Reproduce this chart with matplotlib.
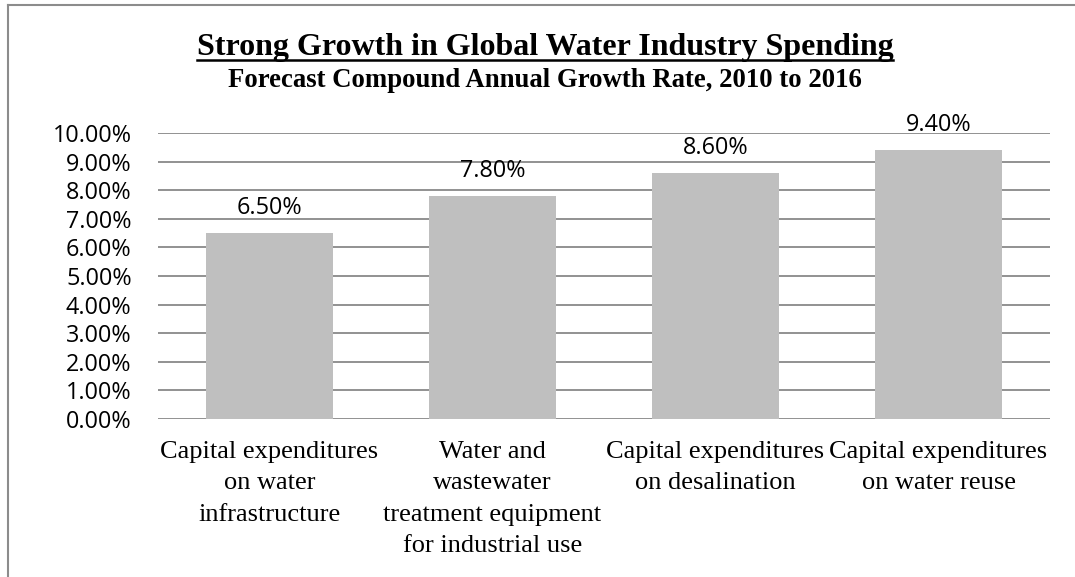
import matplotlib
matplotlib.use("Agg")
import matplotlib.pyplot as plt
from matplotlib.ticker import FuncFormatter, MultipleLocator
from matplotlib.lines import Line2D

# Forecast compound annual growth rate by spending category (percent)
categories = [
    "Capital expenditures\non water\ninfrastructure",
    "Water and\nwastewater\ntreatment equipment\nfor industrial use",
    "Capital expenditures\non desalination",
    "Capital expenditures\non water reuse",
]
growth_pct = [6.5, 7.8, 8.6, 9.4]

title = "Strong Growth in Global Water Industry Spending"
subtitle = "Forecast Compound Annual Growth Rate, 2010 to 2016"

W, H, DPI = 1075, 577, 100
fig = plt.figure(figsize=(W / DPI, H / DPI), dpi=DPI)
fig.patch.set_facecolor("white")

# chart-area frame (left and top edges)
fig.add_artist(Line2D([8 / W, 8 / W], [0, 1 - 5 / H], transform=fig.transFigure,
                      color="#8c8c8c", lw=1.5))
fig.add_artist(Line2D([8 / W, 1], [1 - 5 / H, 1 - 5 / H], transform=fig.transFigure,
                      color="#8c8c8c", lw=1.5))

x0, x1 = 158, 1050
y_top, y_bot = 133, 419
ax = fig.add_axes([x0 / W, 1 - y_bot / H, (x1 - x0) / W, (y_bot - y_top) / H])

xs = list(range(len(categories)))
ax.bar(xs, growth_pct, width=0.568, color="#bfbfbf", zorder=2)
ax.set_xlim(-0.5, len(categories) - 0.5)
ax.set_ylim(0, 10)
ax.yaxis.set_major_locator(MultipleLocator(1))
ax.yaxis.set_major_formatter(FuncFormatter(lambda v, p: f"{v:.2f}%"))
ax.grid(axis="y", color="#898989", lw=1.3, zorder=1)
ax.set_axisbelow(True)
for s in ax.spines.values():
    s.set_visible(False)
ax.tick_params(axis="both", length=0)
ax.tick_params(axis="y", pad=19, labelsize=16.8, labelcolor="black")
for t in ax.get_yticklabels():
    t.set_fontfamily("Open Sans")

ax.set_xticks(xs)
ax.set_xticklabels(categories, fontfamily="Liberation Serif", fontsize=19,
                   linespacing=1.54)
ax.tick_params(axis="x", pad=16)

for x, v in zip(xs, growth_pct):
    ax.annotate(f"{v:.2f}%", (x, v), xytext=(0, 13.7), textcoords="offset points",
                ha="center", va="baseline", fontsize=16.8, fontfamily="Open Sans")

t1 = fig.text(545 / W, 1 - 55 / H, title, ha="center", va="baseline",
              fontfamily="Liberation Serif", fontweight="bold", fontsize=23)
fig.text(545 / W, 1 - 87.3 / H, subtitle, ha="center", va="baseline",
         fontfamily="Liberation Serif", fontweight="bold", fontsize=19.3)

# underline the title
fig.canvas.draw()
bb = t1.get_window_extent()
uy = H - 60
fig.add_artist(Line2D([bb.x0 / W, bb.x1 / W], [uy / H, uy / H],
                      transform=fig.transFigure, color="black", lw=1.8))

fig.savefig("out.png", dpi=DPI, facecolor="white")
